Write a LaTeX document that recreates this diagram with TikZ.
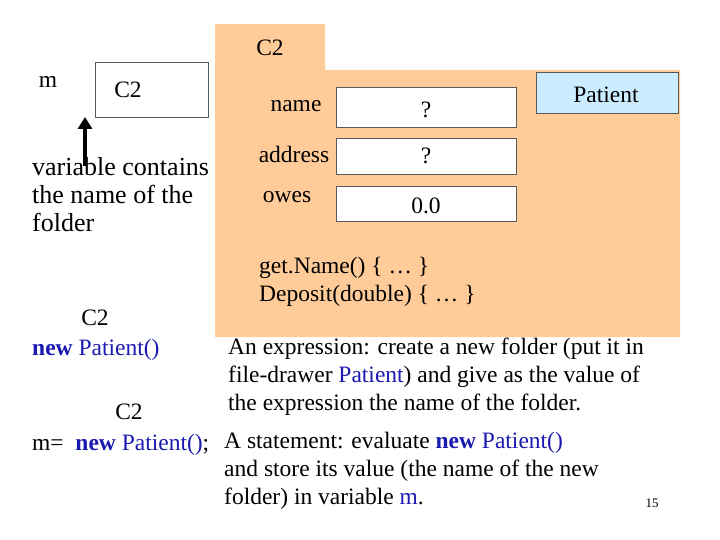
\documentclass[tikz,border=0pt]{standalone}
\usepackage{fontspec}
\setmainfont{Liberation Serif}
\usetikzlibrary{arrows.meta}
\begin{document}
\begin{tikzpicture}[x=1pt,y=-1pt,
  txt/.style={font=\fontsize{23.5}{28}\selectfont,inner sep=0pt},
  valbox/.style={draw=gray!70!black,fill=white,line width=0.8pt}]
\useasboundingbox (0,0) rectangle (720,540);
\definecolor{peach}{HTML}{FFCC99}
\definecolor{lblue}{HTML}{CCECFF}
\definecolor{kwc}{HTML}{1A1AB0}
\fill[peach] (215,24) -- (325,24) -- (325,70) -- (680,70) -- (680,337) -- (215,337) -- cycle;
\node[txt] (tab) at (270,48) {C2};
\draw[valbox] (95,62) rectangle (208,117);
\node[txt] (m) at (48,82) {m};
\node[txt] (mval) at (128,90) {C2};
\coordinate (atail) at (85,166);
\coordinate (ahead) at (85,117);
\draw[line width=3.5pt,-{Triangle[length=12pt,width=14pt]}] (atail) -- (ahead);
\node[txt,font=\fontsize{26}{28}\selectfont,align=left,anchor=north west] (vc) at (32,157) {variable contains\\the name of the\\folder};
\draw[valbox] (336,87) rectangle (516,127);
\draw[valbox] (336,138) rectangle (516,174);
\draw[valbox] (336,186) rectangle (516,221);
\node[txt] (n) at (296,106) {name};
\node[txt] (a) at (294,154) {address};
\node[txt] (o) at (287,197) {owes};
\node[txt] (v1) at (426,110) {?};
\node[txt] (v2) at (426,156) {?};
\node[txt] (v3) at (426,206) {0.0};
\draw[valbox,fill=lblue] (536,72) rectangle (678,113);
\node[txt] (pat) at (606,95) {Patient};
\node[txt,align=left,anchor=north west] (meth) at (259,257) {get.Name() \{ … \}\\Deposit(double) \{ … \}};
\node[txt] (c2a) at (95,318) {C2};
\node[txt,anchor=west] (np) at (32,350) {\textbf{\textcolor{kwc}{new}} \textcolor{kwc}{Patient()}};
\node[txt,align=left,anchor=north west] (expr) at (228,338) {An expression: create a new folder (put it in\\file-drawer \textcolor{kwc}{Patient}) and give as the value of\\the expression the name of the folder.};
\node[txt] (c2b) at (129,412) {C2};
\node[txt,anchor=west] (stm) at (32,445) {m=\ \ \textbf{\textcolor{kwc}{new}} \textcolor{kwc}{Patient()};};
\node[txt,align=left,anchor=north west] (st) at (224,432) {A statement: evaluate \textbf{\textcolor{kwc}{new}} \textcolor{kwc}{Patient()}\\and store its value (the name of the new\\folder) in variable \textcolor{kwc}{m}.};
\node[inner sep=0pt,font=\fontsize{13}{15}\selectfont] (pg) at (652,503) {15};
\end{tikzpicture}
\end{document}
